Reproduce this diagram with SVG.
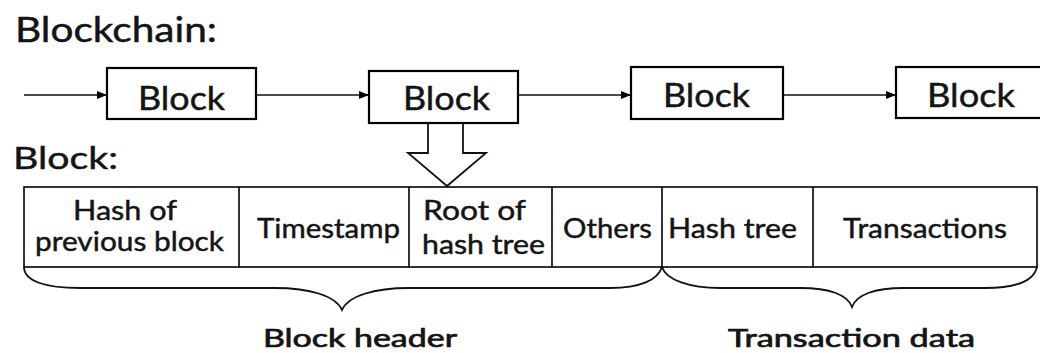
<svg xmlns="http://www.w3.org/2000/svg" width="1040" height="353" viewBox="0 0 1040 353">
  <style>
    text { font-family: Lato, "Open Sans", "Liberation Sans", sans-serif; fill: #141414; stroke: #141414; stroke-width: 0.45; }
    .title { font-size: 34px; }
    .blk { font-size: 32px; }
    .cell { font-size: 27px; }
    .cap { font-size: 25px; stroke-width: 0.7; }
    .box { fill: #fff; stroke: #000; stroke-width: 2.2; }
    .cellline { fill: none; stroke: #000; stroke-width: 1.6; }
    .link { fill: none; stroke: #111; stroke-width: 1.6; }
    .brace { fill: none; stroke: #111; stroke-width: 1.8; }
    .hollow { fill: #fff; stroke: #111; stroke-width: 1.8; stroke-linejoin: miter; }
  </style>
  <defs>
    <marker id="arrowhead" markerWidth="10" markerHeight="8" refX="9" refY="4" orient="auto" markerUnits="userSpaceOnUse">
      <path d="M0,0 L10,4 L0,8 Z" fill="#000"/>
    </marker>
  </defs>

  <rect width="1040" height="353" fill="#fff"/>

  <!-- section headings -->
  <text class="title" x="15" y="42" textLength="202" lengthAdjust="spacingAndGlyphs">Blockchain:</text>
  <text class="title" x="13" y="169" style="font-size:31px" textLength="105" lengthAdjust="spacingAndGlyphs">Block:</text>

  <!-- chain links -->
  <g id="connectors">
    <line class="link" x1="24" y1="95" x2="106" y2="95" marker-end="url(#arrowhead)"/>
    <line class="link" x1="256" y1="95" x2="368" y2="95" marker-end="url(#arrowhead)"/>
    <line class="link" x1="518" y1="95" x2="630" y2="95" marker-end="url(#arrowhead)"/>
    <line class="link" x1="783" y1="95" x2="895" y2="95" marker-end="url(#arrowhead)"/>
    <!-- hollow arrow expanding the second block -->
    <polyline class="hollow" points="428,123 428,153 408,153 447,186 486,153 463,153 463,123"/>
  </g>

  <g id="block-1">
    <rect class="box" x="107" y="68" width="149" height="51"/>
    <text class="blk" x="138" y="110" textLength="87" lengthAdjust="spacingAndGlyphs">Block</text>
  </g>
  <g id="block-2">
    <rect class="box" x="369" y="71" width="149" height="52"/>
    <text class="blk" x="403" y="110" textLength="87" lengthAdjust="spacingAndGlyphs">Block</text>
  </g>
  <g id="block-3">
    <rect class="box" x="631" y="67" width="152" height="52"/>
    <text class="blk" x="663" y="107" textLength="87" lengthAdjust="spacingAndGlyphs">Block</text>
  </g>
  <g id="block-4">
    <rect class="box" x="896" y="67" width="160" height="51"/>
    <text class="blk" x="927" y="107" textLength="88" lengthAdjust="spacingAndGlyphs">Block</text>
  </g>

  <!-- block layout table -->
  <g id="block-structure">
    <rect class="cellline" x="24" y="187" width="1013" height="80"/>
    <line class="cellline" x1="239" y1="187" x2="239" y2="267"/>
    <line class="cellline" x1="409" y1="187" x2="409" y2="267"/>
    <line class="cellline" x1="552" y1="187" x2="552" y2="267"/>
    <line class="cellline" x1="662" y1="187" x2="662" y2="267"/>
    <line class="cellline" x1="813" y1="187" x2="813" y2="267"/>

    <text class="cell" x="73" y="220" textLength="104" lengthAdjust="spacingAndGlyphs">Hash of</text>
    <text class="cell" x="35" y="251" textLength="189" lengthAdjust="spacingAndGlyphs">previous block</text>
    <text class="cell" x="257" y="238" textLength="143" lengthAdjust="spacingAndGlyphs">Timestamp</text>
    <text class="cell" x="423" y="220" textLength="103" lengthAdjust="spacingAndGlyphs">Root of</text>
    <text class="cell" x="422" y="254" textLength="123" lengthAdjust="spacingAndGlyphs">hash tree</text>
    <text class="cell" x="563" y="238" textLength="89" lengthAdjust="spacingAndGlyphs">Others</text>
    <text class="cell" x="668" y="238" textLength="129" lengthAdjust="spacingAndGlyphs">Hash tree</text>
    <text class="cell" x="843" y="238" textLength="164" lengthAdjust="spacingAndGlyphs">Transactions</text>
  </g>

  <!-- grouping braces -->
  <g id="block-header">
    <path class="brace" d="M24,267 C24,281 45,288 80,288 L275,288 C310,288 336,296 342,310 C348,296 374,288 409,288 L610,288 C640,288 658,280 662,267"/>
    <text class="cap" x="263" y="347" textLength="194" lengthAdjust="spacingAndGlyphs">Block header</text>
  </g>
  <g id="transaction-data">
    <path class="brace" d="M662,267 C666,280 690,288 720,288 L800,288 C830,288 848,295 852,307 C856,295 874,288 904,288 L985,288 C1018,288 1034,280 1037,267"/>
    <text class="cap" x="728" y="347" textLength="247" lengthAdjust="spacingAndGlyphs">Transaction data</text>
  </g>
</svg>
